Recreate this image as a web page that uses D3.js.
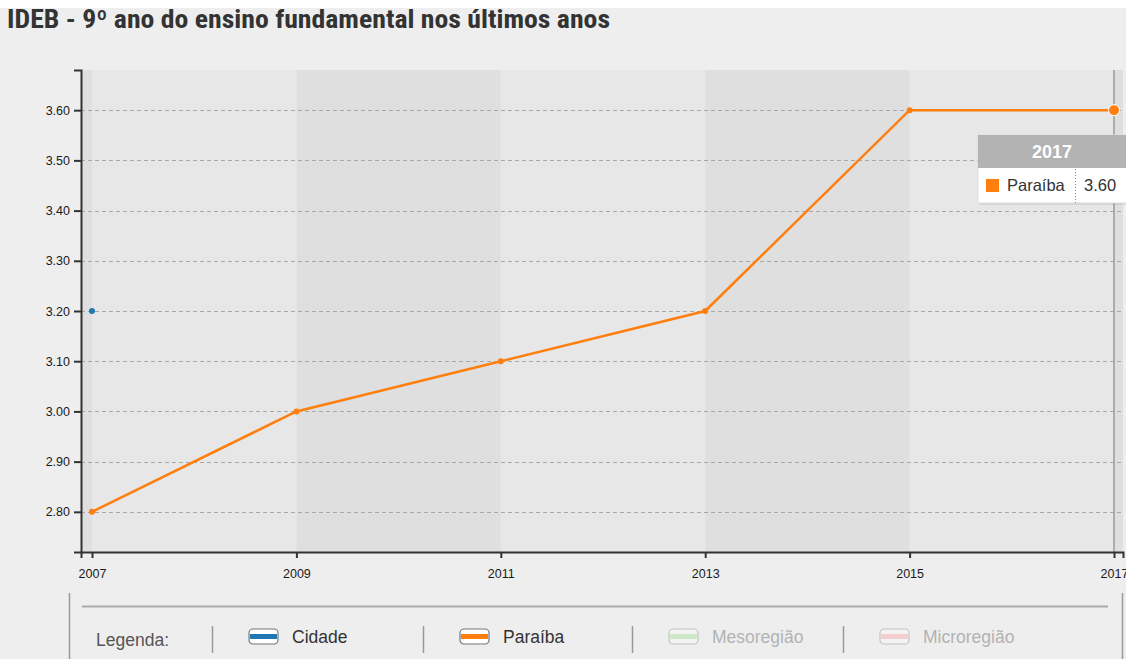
<!DOCTYPE html>
<html>
<head>
<meta charset="utf-8">
<script src="https://cdn.jsdelivr.net/npm/d3@7"></script>
<style>
  html, body { margin: 0; padding: 0; background: #eeeeee; }
  svg { display: block; }
</style>
</head>
<body>
<svg id="chart" width="1126" height="659"></svg>
<script>
// Anos avaliados e resultados do IDEB (9º ano)
const years = [2007, 2009, 2011, 2013, 2015, 2017];
const paraiba = [2.80, 3.00, 3.10, 3.20, 3.60, 3.60];
const cidade = [3.20, null, null, null, null, null];
const yTicks = [2.80, 2.90, 3.00, 3.10, 3.20, 3.30, 3.40, 3.50, 3.60];
const legendItems = ["Cidade", "Paraíba", "Mesoregião", "Microregião"];
const legendColors = ["#1f77b4", "#ff7f0e", "#98df8a", "#ff9896"];
const legendActive = [true, true, false, false];
const hoverYear = 2017;

const svg = d3.select("#chart");
const W = 1126, H = 659;
const plot = { left: 81, right: 1123, top: 70, bottom: 552 };
const FONT = "Arial, 'Liberation Sans', sans-serif";

// faixa branca superior
svg.append("rect").attr("x", 0).attr("y", 0).attr("width", W).attr("height", 8).attr("fill", "#ffffff");

svg.append("text")
  .attr("x", 7).attr("y", 28)
  .attr("font-family", "'Liberation Sans Narrow', 'Roboto Condensed', 'DejaVu Sans Condensed', sans-serif")
  .attr("font-weight", "bold")
  .attr("font-size", 25)
  .attr("fill", "#333")
  .attr("textLength", 603)
  .attr("lengthAdjust", "spacingAndGlyphs")
  .text("IDEB - 9º ano do ensino fundamental nos últimos anos");

// escalas
const step = (1114 - 92) / (years[years.length - 1] - years[0]);
const pad = (92 - plot.left) / step;
const x = d3.scaleLinear()
  .domain([years[0] - pad, years[years.length - 1] + (plot.right - 1114) / step])
  .range([plot.left, plot.right]);
const y = d3.scaleLinear().domain([2.72, 3.68]).range([plot.bottom, plot.top]);

// fundo da área do gráfico com faixas alternadas
const edges = [x.domain()[0], ...years, x.domain()[1]];
const bands = d3.pairs(edges).map((p, i) => ({ a: p[0], b: p[1], dark: i % 2 === 0 }));
svg.append("g").selectAll("rect").data(bands).join("rect")
  .attr("x", d => x(d.a))
  .attr("y", plot.top)
  .attr("width", d => x(d.b) - x(d.a))
  .attr("height", plot.bottom - plot.top)
  .attr("fill", d => d.dark ? "#dfdfdf" : "#e7e7e7");

// linhas de grade
svg.append("g").selectAll("line").data(yTicks).join("line")
  .attr("x1", plot.left).attr("x2", plot.right)
  .attr("y1", d => Math.round(y(d)) + 0.5).attr("y2", d => Math.round(y(d)) + 0.5)
  .attr("stroke", "#a8a8a8")
  .attr("stroke-width", 1)
  .attr("stroke-dasharray", "4,3");

// linha de destaque do ano selecionado
svg.append("line")
  .attr("x1", x(hoverYear)).attr("x2", x(hoverYear))
  .attr("y1", plot.top).attr("y2", plot.bottom)
  .attr("stroke", "#9a9a9a").attr("stroke-width", 1.5);

// eixos
const yAxis = d3.axisLeft(y).tickValues(yTicks).tickFormat(d3.format(".2f")).tickSize(7);
const gy = svg.append("g").attr("transform", `translate(${plot.left},0)`).call(yAxis);
const xAxis = d3.axisBottom(x).tickValues(years).tickFormat(d3.format("d")).tickSize(6);
const gx = svg.append("g").attr("transform", `translate(0,${plot.bottom})`).call(xAxis);
[gx, gy].forEach(g => {
  g.select(".domain").attr("stroke", "#333").attr("stroke-width", 2);
  g.selectAll(".tick line").attr("stroke", "#333").attr("stroke-width", 2);
  g.selectAll(".tick text")
    .attr("font-family", FONT)
    .attr("font-size", 12.5)
    .attr("fill", "#1a1a1a");
});
gx.selectAll(".tick text").attr("dy", "1.35em");
gy.selectAll(".tick text").attr("x", -11);

// série Paraíba
const pts = years.map((yr, i) => ({ yr, v: paraiba[i] }));
svg.append("path")
  .datum(pts)
  .attr("fill", "none")
  .attr("stroke", "#ff7f0e")
  .attr("stroke-width", 2.5)
  .attr("d", d3.line().x(d => x(d.yr)).y(d => y(d.v)));
svg.append("g").selectAll("circle").data(pts).join("circle")
  .attr("cx", d => x(d.yr)).attr("cy", d => y(d.v))
  .attr("r", d => d.yr === hoverYear ? 5.5 : 3)
  .attr("fill", "#ff7f0e")
  .attr("stroke", d => d.yr === hoverYear ? "#fff" : "none")
  .attr("stroke-width", 1);

// série Cidade (apenas pontos com valor)
const cPts = years.map((yr, i) => ({ yr, v: cidade[i] })).filter(d => d.v != null);
svg.append("g").selectAll("circle").data(cPts).join("circle")
  .attr("cx", d => x(d.yr)).attr("cy", d => y(d.v))
  .attr("r", 3).attr("fill", "#1f77b4");

// tooltip
const tipVal = paraiba[years.indexOf(hoverYear)];
const tip = svg.append("g").attr("transform", "translate(978,135)");
tip.append("rect").attr("x", 1).attr("y", 1).attr("width", 150).attr("height", 69)
  .attr("fill", "#000").attr("opacity", 0.08);
tip.append("rect").attr("width", 150).attr("height", 68).attr("fill", "#fff")
  .attr("stroke", "#ddd");
tip.append("rect").attr("width", 150).attr("height", 33).attr("fill", "#b3b3b3");
tip.append("text").attr("x", 74).attr("y", 23).attr("text-anchor", "middle")
  .attr("font-family", FONT).attr("font-weight", "bold")
  .attr("font-size", 18).attr("fill", "#fff").text(hoverYear);
tip.append("rect").attr("x", 8).attr("y", 44).attr("width", 13).attr("height", 13).attr("fill", "#ff7f0e");
tip.append("text").attr("x", 29).attr("y", 56)
  .attr("font-family", FONT).attr("font-size", 16.5).attr("fill", "#333")
  .text("Paraíba");
tip.append("line").attr("x1", 97.5).attr("x2", 97.5).attr("y1", 34).attr("y2", 68)
  .attr("stroke", "#888").attr("stroke-dasharray", "1,2");
tip.append("text").attr("x", 106).attr("y", 56)
  .attr("font-family", FONT).attr("font-size", 16.5).attr("fill", "#333")
  .text(d3.format(".2f")(tipVal));

// legenda
const lg = svg.append("g");
lg.append("line").attr("x1", 69.5).attr("x2", 69.5).attr("y1", 593).attr("y2", H).attr("stroke", "#999").attr("stroke-width", 1.5);
lg.append("line").attr("x1", 1122.5).attr("x2", 1122.5).attr("y1", 593).attr("y2", H).attr("stroke", "#999").attr("stroke-width", 1.5);
lg.append("line").attr("x1", 82).attr("x2", 1108).attr("y1", 606.5).attr("y2", 606.5).attr("stroke", "#aaa").attr("stroke-width", 2);
lg.append("text").attr("x", 96).attr("y", 646)
  .attr("font-family", FONT).attr("font-size", 17.5).attr("fill", "#555")
  .text("Legenda:");
const sepX = [212, 423, 632, 843];
lg.selectAll("line.sep").data(sepX).join("line").attr("class", "sep")
  .attr("x1", d => d + 0.5).attr("x2", d => d + 0.5).attr("y1", 626).attr("y2", 653)
  .attr("stroke", "#999").attr("stroke-width", 1.5);
const item = lg.selectAll("g.item").data(legendItems).join("g").attr("class", "item")
  .attr("transform", (d, i) => `translate(${sepX[i] + 37},0)`)
  .attr("opacity", (d, i) => legendActive[i] ? 1 : 0.35);
item.append("rect").attr("x", 0).attr("y", 629).attr("width", 29).attr("height", 15).attr("rx", 4)
  .attr("fill", "#fff").attr("stroke", "#777").attr("stroke-width", 1.2);
item.append("rect").attr("x", 1).attr("y", 634).attr("width", 27).attr("height", 5)
  .attr("fill", (d, i) => legendColors[i]);
item.append("text").attr("x", 43).attr("y", 643)
  .attr("font-family", FONT).attr("font-size", 17.5)
  .attr("fill", (d, i) => legendActive[i] ? "#333" : "#444")
  .text(d => d);
</script>
</body>
</html>
